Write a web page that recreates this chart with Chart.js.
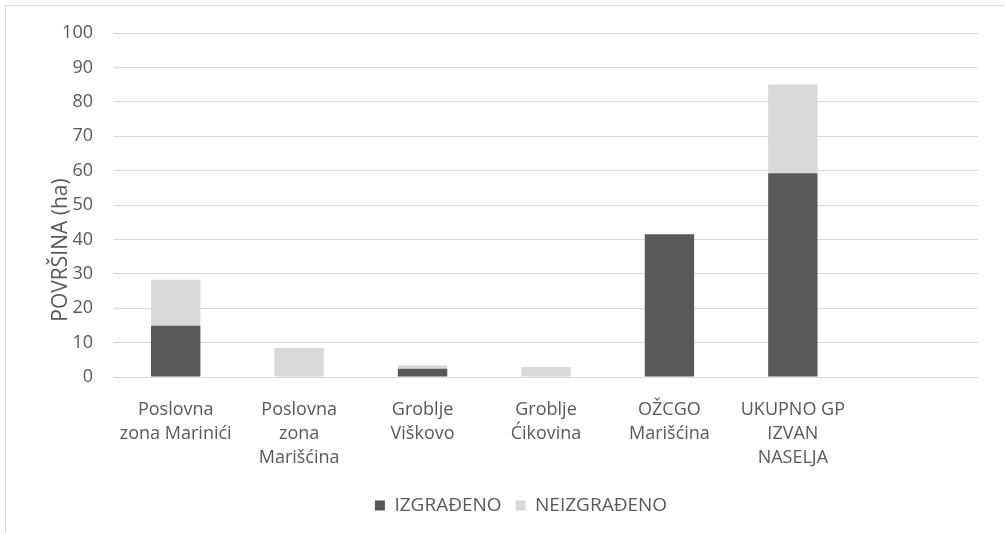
<!DOCTYPE html>
<html>
<head>
<meta charset="utf-8">
<script src="https://cdn.jsdelivr.net/npm/chart.js@4/dist/chart.umd.min.js"></script>
<style>
  html, body { margin: 0; padding: 0; background: #fff; overflow: hidden; }
  #frame { position: absolute; left: 5px; top: 5px; width: 1100px; height: 600px; border: 1px solid #d9d9d9; }
  #wrap { position: absolute; left: 0; top: 0; width: 1005px; height: 533px; }
</style>
</head>
<body>
<div id="frame"></div>
<div id="wrap"><canvas id="chart"></canvas></div>
<script>
// podaci (ha)
const kategorije = [
  ['Poslovna', 'zona Marinići'],
  ['Poslovna', 'zona', 'Marišćina'],
  ['Groblje', 'Viškovo'],
  ['Groblje', 'Ćikovina'],
  ['OŽCGO', 'Marišćina'],
  ['UKUPNO GP', 'IZVAN', 'NASELJA'],
  ''
];
const izgradeno   = [14.9, null, 2.4, null, 41.5, 59.2, null];
const neizgradeno = [13.4, 8.4, 1.0, 2.9, null, 25.8, null];
const yTicks = [0, 10, 20, 30, 40, 50, 60, 70, 80, 90, 100];

const FONT = '"Open Sans", sans-serif';
const TXT = '#595959';

// naslov osi Y crtamo sami (u originalu nije centriran)
const yTitle = {
  id: 'yTitle',
  afterDraw(chart) {
    const { ctx, chartArea } = chart;
    ctx.save();
    ctx.translate(chartArea.left - 53, chartArea.top + 217);
    ctx.rotate(-Math.PI / 2);
    ctx.font = '21px ' + FONT;
    ctx.fillStyle = TXT;
    ctx.textAlign = 'center';
    ctx.textBaseline = 'middle';
    ctx.fillText('POVRŠINA (ha)', 0, 0);
    ctx.restore();
  }
};

// legenda je u originalu malo desno od sredine
const legendShift = {
  id: 'legendShift',
  afterLayout(chart) {
    const lg = chart.legend;
    if (!lg) return;
    lg.left += 32; lg.right += 32;
    (lg.legendHitBoxes || []).forEach(h => { h.left += 32; });
  }
};

new Chart(document.getElementById('chart'), {
  type: 'bar',
  data: {
    labels: kategorije,
    datasets: [
      { label: 'IZGRAĐENO', data: izgradeno, backgroundColor: '#595959' },
      { label: 'NEIZGRAĐENO', data: neizgradeno, backgroundColor: '#d9d9d9' }
    ]
  },
  options: {
    responsive: true,
    maintainAspectRatio: false,
    animation: false,
    datasets: { bar: { barPercentage: 0.4, categoryPercentage: 1 } },
    layout: { padding: { top: 33, right: 27, bottom: 8, left: 0 } },
    scales: {
      x: {
        stacked: true,
        grid: { display: false, drawTicks: false },
        border: { display: false },
        ticks: { color: TXT, font: { family: FONT, size: 18, lineHeight: 1.33 }, padding: 21, maxRotation: 0, autoSkip: false },
        afterFit(s) { s.height = 105; }
      },
      y: {
        stacked: true,
        min: 0, max: 100,
        afterBuildTicks(s) { s.ticks = yTicks.map(v => ({ value: v })); },
        grid: { color: '#d9d9d9', lineWidth: 1, drawTicks: false },
        border: { display: false },
        ticks: { color: TXT, font: { family: FONT, size: 18 }, padding: 21 },
        afterFit(s) { s.width = 114; }
      }
    },
    plugins: {
      legend: {
        position: 'bottom',
        labels: { color: TXT, font: { family: FONT, size: 19 }, boxWidth: 10, boxHeight: 10, padding: 14 }
      },
      tooltip: { enabled: false }
    }
  },
  plugins: [yTitle, legendShift]
});
</script>
</body>
</html>
